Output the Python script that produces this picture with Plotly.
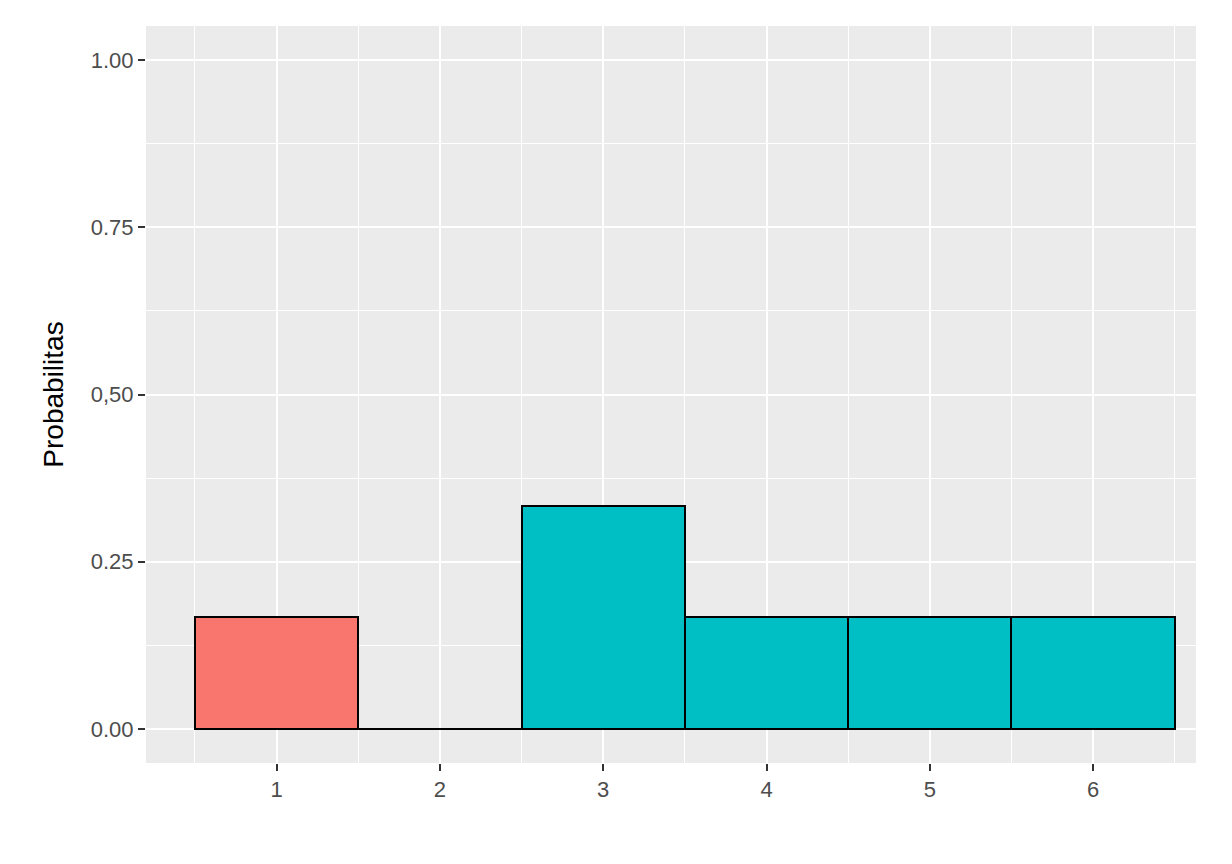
import plotly.graph_objects as go

faces = [1, 2, 3, 4, 5, 6]
probs = [1/6, 0, 1/3, 1/6, 1/6, 1/6]
colors = ['#F8766D', '#00BFC4', '#00BFC4', '#00BFC4', '#00BFC4', '#00BFC4']
ytick_vals = [0, 0.25, 0.5, 0.75, 1.0]
ytick_text = ['0.00', '0.25', '0,50', '0.75', '1.00']

fig = go.Figure(go.Bar(
    x=faces, y=probs, width=1,
    marker=dict(color=colors, line=dict(color='black', width=2)),
))

fig.update_layout(
    width=1232, height=864,
    margin=dict(l=138, r=44, t=18, b=109),
    paper_bgcolor='white', plot_bgcolor='#EBEBEB',
    font=dict(family='Liberation Sans, Arial', size=22, color='#4D4D4D'),
    showlegend=False, bargap=0,
)
fig.update_xaxes(
    range=[0.2, 6.63], tickvals=faces, showgrid=True, gridcolor='white', gridwidth=2,
    minor=dict(tickvals=[0.5, 1.5, 2.5, 3.5, 4.5, 5.5, 6.5], showgrid=True, gridcolor='white', gridwidth=1),
    ticks='outside', ticklen=7, tickcolor='#333333', tickwidth=2, zeroline=False,
)
fig.update_yaxes(
    range=[-0.051, 1.051], tickvals=ytick_vals, ticktext=ytick_text,
    showgrid=True, gridcolor='white', gridwidth=2,
    minor=dict(tickvals=[0.125, 0.375, 0.625, 0.875], showgrid=True, gridcolor='white', gridwidth=1),
    ticks='outside', ticklen=7, tickcolor='#333333', tickwidth=2, zeroline=False,
    title=dict(text='Probabilitas', font=dict(size=28, color='black'), standoff=18),
)

fig.write_html("out.html")
